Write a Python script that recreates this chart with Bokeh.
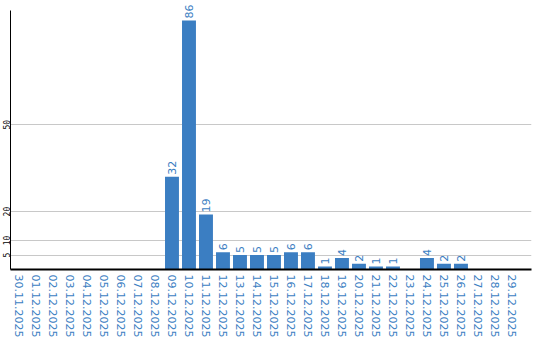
import math
from bokeh.plotting import figure
from bokeh.models import ColumnDataSource, FixedTicker, Range1d
from bokeh.core.properties import value
from bokeh.embed import file_html
from bokeh.resources import INLINE

dates = ["30.11.2025", "01.12.2025", "02.12.2025", "03.12.2025", "04.12.2025",
         "05.12.2025", "06.12.2025", "07.12.2025", "08.12.2025", "09.12.2025",
         "10.12.2025", "11.12.2025", "12.12.2025", "13.12.2025", "14.12.2025",
         "15.12.2025", "16.12.2025", "17.12.2025", "18.12.2025", "19.12.2025",
         "20.12.2025", "21.12.2025", "22.12.2025", "23.12.2025", "24.12.2025",
         "25.12.2025", "26.12.2025", "27.12.2025", "28.12.2025", "29.12.2025"]
counts = [0, 0, 0, 0, 0, 0, 0, 0, 0, 32,
          86, 19, 6, 5, 5, 5, 6, 6, 1, 4,
          2, 1, 1, 0, 4, 2, 2, 0, 0, 0]
y_ticks = [5, 10, 20, 50]

BLUE = "#3b7ec2"

idx = list(range(len(dates)))
src = ColumnDataSource(dict(x=idx, top=counts))
lab_x = [i for i, c in zip(idx, counts) if c > 0]
lab_y = [c for c in counts if c > 0]
lab_t = [str(c) for c in counts if c > 0]
lsrc = ColumnDataSource(dict(x=lab_x, y=lab_y, t=lab_t))

p = figure(width=540, height=340, output_backend="svg", toolbar_location=None,
           x_range=Range1d(-0.5, 30.15), y_range=Range1d(0, 92.9),
           min_border_left=0, min_border_right=9, min_border_top=0, min_border_bottom=0)
p.outline_line_color = None
p.background_fill_color = "white"
p.border_fill_color = "white"

p.vbar(x="x", top="top", width=0.82, bottom=0, source=src,
       fill_color=BLUE, line_color=None)
p.text(x="x", y="y", text="t", source=lsrc, angle=math.pi / 2,
       text_align="left", text_baseline="middle", y_offset=-2,
       text_font=value("DejaVu Sans"), text_font_size="11px", text_color=BLUE)

p.xgrid.grid_line_color = None
p.ygrid.ticker = FixedTicker(ticks=y_ticks)
p.ygrid.grid_line_color = "#c8c8c8"
p.ygrid.grid_line_width = 1

xa = p.xaxis[0]
xa.ticker = FixedTicker(ticks=idx)
xa.major_label_overrides = {i: d for i, d in zip(idx, dates)}
xa.major_label_orientation = "vertical"
xa.major_label_text_color = BLUE
xa.major_label_text_font = "DejaVu Sans"
xa.major_label_text_font_size = "11px"
xa.major_tick_line_color = None
xa.minor_tick_line_color = None
xa.major_tick_in = 0
xa.major_tick_out = 0
xa.major_label_standoff = 5
xa.axis_line_color = "black"
xa.axis_line_width = 2

ya = p.yaxis[0]
ya.ticker = FixedTicker(ticks=y_ticks)
ya.bounds = (0, 89.4)
ya.major_label_orientation = "vertical"
ya.major_label_text_color = "black"
ya.major_label_text_font = "DejaVu Sans Mono"
ya.major_label_text_font_size = "8px"
ya.major_tick_line_color = None
ya.minor_tick_line_color = None
ya.major_tick_in = 0
ya.major_tick_out = 0
ya.major_label_standoff = 0
ya.axis_line_color = "black"
ya.axis_line_width = 1

open("out.html", "w").write(file_html(p, INLINE))
